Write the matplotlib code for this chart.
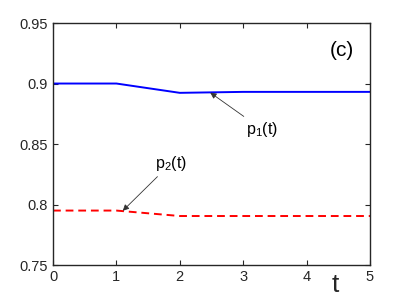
import numpy as np
import matplotlib.pyplot as plt

plt.rcParams['font.family'] = ['Liberation Sans', 'DejaVu Sans']
plt.rcParams['mathtext.fontset'] = 'custom'
plt.rcParams['mathtext.rm'] = 'Liberation Sans'
plt.rcParams['mathtext.it'] = 'Liberation Sans'

# data
t = [0, 1, 2, 3, 4, 5]
p1 = [0.900, 0.900, 0.8923, 0.8931, 0.8931, 0.8931]
p2 = [0.795, 0.795, 0.7905, 0.7905, 0.7905, 0.7905]

fig = plt.figure(figsize=(4.09, 2.98), dpi=100)
ax = fig.add_axes([0.1296, 0.1107, 0.775, 0.812])

ax.plot(t, p1, color='blue', lw=1.4)
ax.plot(t, p2, color='red', lw=1.4, ls=(0, (4, 2.5)))

ax.set_xlim(0, 5)
ax.set_ylim(0.75, 0.95)
ax.set_xticks([0, 1, 2, 3, 4, 5])
ax.set_yticks([0.75, 0.8, 0.85, 0.9, 0.95])
ax.set_yticklabels(['0.75', '0.8', '0.85', '0.9', '0.95'])
ax.tick_params(direction='in', top=True, right=True, labelsize=10.5, length=3.5,
               width=0.8, colors='#262626')
for s in ax.spines.values():
    s.set_linewidth(1.0)
    s.set_color('#262626')

arrow = dict(arrowstyle='-|>', color='#333333', lw=0.6,
             mutation_scale=9, shrinkA=1, shrinkB=0)
ax.annotate('p$_\\mathrm{1}$(t)', xy=(2.48, 0.8925), xytext=(3.3, 0.862),
            fontsize=11.5, ha='center', va='center', arrowprops=arrow)
ax.annotate('p$_\\mathrm{2}$(t)', xy=(1.1, 0.7948), xytext=(1.86, 0.834),
            fontsize=11.5, ha='center', va='center', arrowprops=arrow)

ax.text(4.55, 0.927, '(c)', fontsize=15, ha='center', va='center')
ax.text(4.45, 0.7435, 't', fontsize=19, ha='center', va='top', color='#262626')

fig.savefig('out.png', dpi=100)
